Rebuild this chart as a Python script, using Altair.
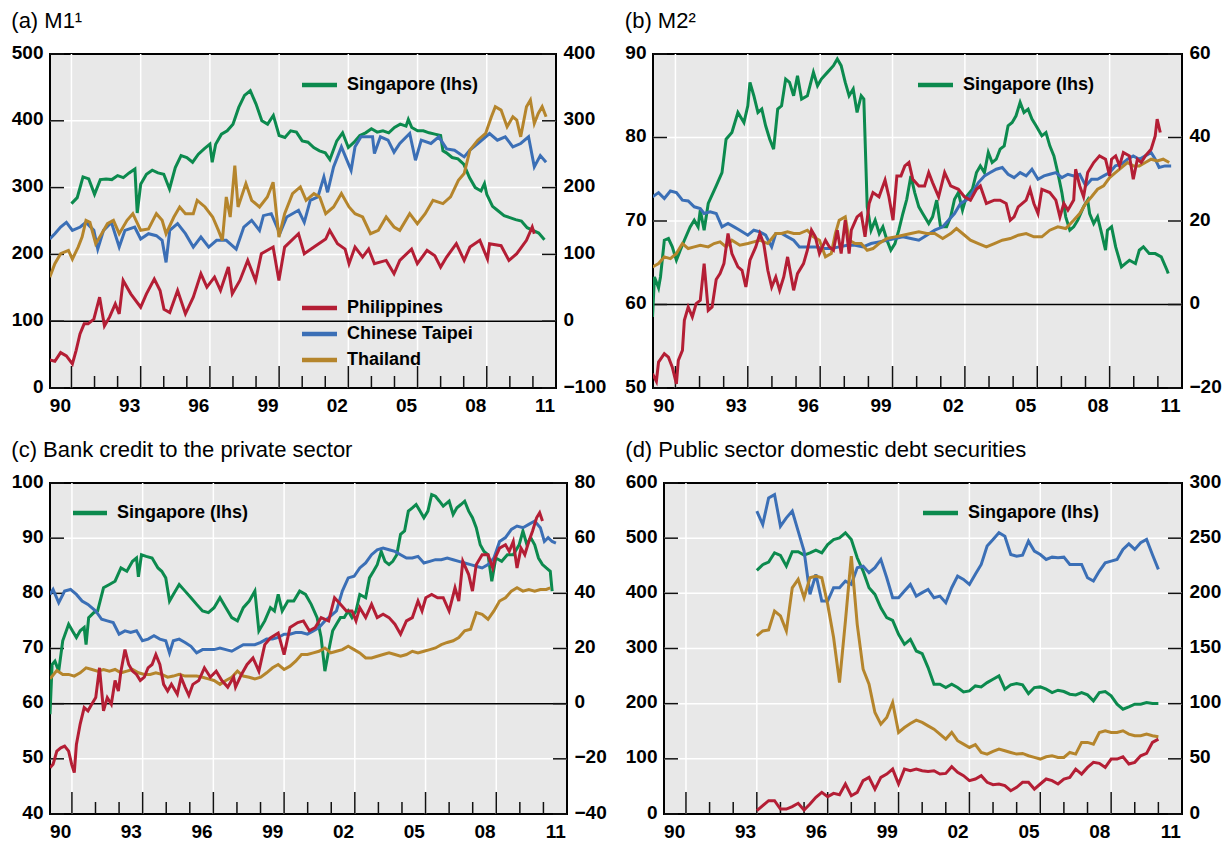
import altair as alt
import pandas as pd

FONT = "Liberation Sans"
GREEN = "#0c8a4e"
RED = "#b41e35"
BLUE = "#3b6fb6"
TAN = "#b5852c"
BG = "#e8e8e8"

# ---------------- tick / label arrays ----------------
LABEL_POS = [1990.5, 1993.5, 1996.5, 1999.5, 2002.5, 2005.5, 2008.5, 2011.5]
MAJOR_YEARS = [1991, 1994, 1997, 2000, 2003, 2006, 2009]
MINOR_YEARS = [1992, 1993, 1995, 1996, 1998, 1999, 2001, 2002, 2004, 2005, 2007, 2008, 2010, 2011]
X_DOMAIN = [1990.07, 2012]

# ---------------- (a) M1 ----------------
a_sg_t = [1991.0,1991.25,1991.5,1991.75,1992.0,1992.25,1992.5,1992.75,1993.0,1993.25,1993.5,1993.75,1993.85,1994.0,1994.25,1994.5,1994.75,1995.0,1995.25,1995.5,1995.75,1996.0,1996.25,1996.5,1996.75,1997.0,1997.1,1997.25,1997.5,1997.75,1998.0,1998.25,1998.5,1998.75,1999.0,1999.25,1999.5,1999.75,2000.0,2000.25,2000.5,2000.75,2001.0,2001.25,2001.5,2001.75,2002.0,2002.2,2002.5,2002.75,2003.0,2003.25,2003.5,2003.75,2004.0,2004.25,2004.5,2004.75,2005.0,2005.25,2005.5,2005.6,2005.75,2006.0,2006.25,2006.5,2006.75,2007.0,2007.1,2007.25,2007.5,2007.75,2008.0,2008.25,2008.5,2008.75,2008.9,2009.0,2009.25,2009.5,2009.75,2010.0,2010.25,2010.5,2010.75,2011.0,2011.25,2011.5]
a_sg_v = [276,285,316,313,290,312,313,312,318,315,322,328,262,305,320,326,322,320,298,330,348,345,338,350,358,365,338,365,380,385,395,420,438,445,425,400,395,408,378,375,385,383,370,368,360,355,352,342,370,382,360,368,378,382,388,383,385,382,390,395,392,402,390,385,385,382,380,378,355,352,345,343,335,315,300,295,306,290,272,265,258,255,252,250,240,236,232,222]

a_ph_t = [1990.06,1990.28,1990.53,1990.78,1991.04,1991.2,1991.37,1991.55,1991.72,1991.97,1992.22,1992.43,1992.65,1992.9,1993.07,1993.24,1993.57,1994.0,1994.25,1994.59,1994.84,1995.01,1995.26,1995.6,1995.94,1996.28,1996.61,1996.87,1997.2,1997.46,1997.8,1997.97,1998.3,1998.64,1998.98,1999.23,1999.74,1999.99,2000.24,2000.84,2001.09,2001.51,2002.02,2002.19,2002.53,2002.86,2003.03,2003.29,2003.62,2003.88,2004.13,2004.64,2004.98,2005.23,2005.74,2005.99,2006.41,2006.75,2007.0,2007.26,2007.68,2008.02,2008.27,2008.7,2009.03,2009.12,2009.62,2009.96,2010.3,2010.72,2010.97,2011.06]
a_ph_v = [-58,-60,-47,-52,-64,-44,-19,-4,-4,3,36,-7,6,26,11,61,41,21,41,63,46,18,13,46,11,36,71,51,66,46,81,41,61,91,61,101,111,61,111,131,101,111,123,136,116,108,86,111,96,108,86,91,71,91,108,86,106,98,81,96,116,91,111,121,93,116,113,91,101,121,141,131]

a_tw_t = [1990.06,1990.28,1990.53,1990.78,1991.04,1991.38,1991.63,1991.97,1992.14,1992.39,1992.73,1993.07,1993.32,1993.74,1994.0,1994.34,1994.68,1994.93,1995.1,1995.26,1995.6,1995.94,1996.28,1996.61,1996.95,1997.29,1997.71,1998.14,1998.47,1998.81,1999.15,1999.32,1999.66,2000.03,2000.33,2000.84,2001.09,2001.35,2001.68,2001.94,2002.1,2002.36,2002.7,2003.12,2003.29,2003.55,2004.05,2004.13,2004.39,2004.72,2004.98,2005.23,2005.66,2005.91,2006.16,2006.58,2006.92,2007.26,2007.6,2008.02,2008.27,2008.61,2009.12,2009.46,2009.8,2010.13,2010.47,2010.81,2011.06,2011.32,2011.57]
a_tw_v = [123,131,141,148,136,141,148,136,108,136,148,111,136,141,123,131,128,121,88,136,146,131,111,126,111,121,121,108,141,151,136,158,161,131,156,166,148,181,186,216,193,231,261,226,261,276,276,251,276,271,253,266,281,241,271,266,276,258,256,246,256,266,281,271,276,261,266,276,231,248,238]

a_th_t = [1990.06,1990.28,1990.53,1990.87,1991.04,1991.29,1991.46,1991.63,1991.8,1992.05,1992.31,1992.56,1992.82,1993.07,1993.41,1993.66,1994.0,1994.34,1994.68,1994.93,1995.1,1995.44,1995.69,1995.94,1996.28,1996.45,1996.79,1997.12,1997.37,1997.54,1997.71,1997.88,1998.08,1998.22,1998.56,1998.81,1999.15,1999.49,1999.74,1999.99,2000.24,2000.58,2000.92,2001.17,2001.51,2001.76,2002.02,2002.36,2002.7,2003.03,2003.29,2003.62,2003.96,2004.3,2004.64,2004.98,2005.23,2005.66,2005.99,2006.33,2006.67,2007.1,2007.43,2007.77,2008.02,2008.27,2008.61,2008.95,2009.2,2009.37,2009.62,2009.88,2010.13,2010.3,2010.47,2010.72,2010.89,2011.06,2011.23,2011.4,2011.57]
a_th_v = [66,86,101,106,93,111,126,151,148,116,131,146,151,131,151,161,136,138,161,151,131,156,171,161,161,181,171,156,136,121,186,156,233,171,206,181,171,186,208,126,161,191,201,181,191,186,161,171,191,171,161,156,131,136,156,141,136,161,146,161,181,176,186,211,221,256,271,281,306,321,316,291,306,301,276,321,331,296,311,321,306]

# ---------------- (b) M2 ----------------
b_sg_t = [1990.05,1990.13,1990.3,1990.38,1990.54,1990.71,1990.87,1991.04,1991.2,1991.37,1991.61,1991.78,1991.94,1992.03,1992.19,1992.36,1992.69,1992.93,1993.1,1993.34,1993.59,1993.84,1994.0,1994.09,1994.25,1994.42,1994.58,1994.74,1994.91,1995.07,1995.24,1995.4,1995.57,1995.73,1995.9,1996.06,1996.23,1996.47,1996.72,1996.89,1997.05,1997.3,1997.55,1997.71,1997.87,1998.04,1998.2,1998.37,1998.53,1998.7,1998.81,1998.95,1999.11,1999.28,1999.45,1999.6,1999.77,1999.93,2000.1,2000.26,2000.43,2000.59,2000.76,2000.92,2001.09,2001.25,2001.5,2001.66,2001.83,2001.99,2002.24,2002.41,2002.57,2002.73,2002.9,2003.06,2003.31,2003.48,2003.64,2003.81,2003.97,2004.13,2004.3,2004.46,2004.63,2004.79,2004.96,2005.12,2005.29,2005.45,2005.62,2005.78,2005.95,2006.19,2006.36,2006.52,2006.69,2006.85,2007.02,2007.18,2007.35,2007.51,2007.68,2007.92,2008.09,2008.17,2008.34,2008.5,2008.67,2008.83,2008.91,2009.08,2009.25,2009.49,2009.65,2009.82,2010.07,2010.23,2010.4,2010.64,2010.89,2011.14,2011.38,2011.43]
b_sg_v = [58.5,63.3,62,63.3,67.7,67.9,66.9,65.3,66.5,67.7,69.3,70.1,69.3,71.3,68.9,72.1,74.2,75.8,79.8,80.6,83,81.8,83.8,86.6,85,83,83.4,81.4,79.8,78.6,83.4,83.8,87,86.6,85,87.4,84.6,85,87.8,86.2,87,87.8,88.6,89.4,88.6,86.6,85,85.8,83,85,84.6,71.7,68.9,70.1,68.5,69.3,67.7,66.5,67.3,68.9,70.9,72.6,75.4,73.4,71.7,70.9,69.7,70.5,72.5,69.3,69.3,70.5,72.6,73.4,71.3,72.9,73.8,75.8,76.6,75.8,78.2,77,77.4,78.6,79,81.4,81.8,82.6,84.2,83,83.4,82.2,81.4,80.2,80.6,79,77.8,75.8,73.4,70.5,68.9,69.3,70.1,71.7,72.5,70.9,69.7,70.5,68.5,66.5,68.9,69.3,66.9,64.5,64.9,65.3,64.9,66.5,66.9,66.1,66.1,65.7,64.1,63.7]

b_ph_t = [1990.05,1990.21,1990.3,1990.54,1990.71,1990.87,1991.04,1991.12,1991.29,1991.37,1991.53,1991.7,1991.86,1992.03,1992.19,1992.36,1992.52,1992.69,1992.85,1993.01,1993.18,1993.34,1993.59,1993.76,1993.92,1994.09,1994.33,1994.5,1994.66,1994.83,1994.99,1995.16,1995.32,1995.49,1995.65,1995.9,1996.06,1996.31,1996.47,1996.64,1996.8,1996.97,1997.22,1997.38,1997.55,1997.71,1997.87,1998.04,1998.2,1998.29,1998.53,1998.7,1998.86,1999.03,1999.19,1999.44,1999.69,1999.85,2000.02,2000.18,2000.35,2000.51,2000.68,2000.84,2001.09,2001.33,2001.5,2001.66,2001.91,2002.16,2002.41,2002.73,2002.98,2003.23,2003.48,2003.64,2003.89,2004.22,2004.46,2004.71,2004.88,2005.04,2005.21,2005.54,2005.7,2005.86,2006.03,2006.19,2006.52,2006.77,2006.94,2007.1,2007.27,2007.51,2007.59,2007.76,2007.92,2008.09,2008.34,2008.58,2008.83,2009.0,2009.08,2009.25,2009.41,2009.57,2009.82,2009.98,2010.15,2010.31,2010.48,2010.72,2010.89,2010.97,2011.1]
b_ph_v = [-16.6,-18.4,-13.8,-11.8,-12.6,-15,-19,-13.4,-11,-3.8,-0.6,-3,0.2,1,9.8,-1.4,-0.6,6,7.4,9.8,17,12.2,9,8.2,4.2,10.6,13.8,17,14.6,8.2,4.2,6.6,3.4,6.6,11.4,3.4,7.4,9.8,13,17.8,16.2,12.2,15.4,13.8,13,17.8,12.2,20.2,12.2,17.8,21,21.8,16.2,24.2,26.8,25.8,29.8,25.8,20.2,30.8,30.8,33.2,34,30,28.4,28.4,31.6,29.2,25.8,31.6,28.4,27.6,25.8,25,27.6,28.4,24.2,25,25,24.2,20.2,21,23.4,25,27.6,24.2,21.8,27.6,26.8,25,21,24.2,22.6,25,32.4,28.4,25.8,31.6,34,35.6,34.8,30.8,34.8,35.6,33.2,36.4,35.6,30,34.8,34,35.6,37.2,40.4,44.4,41.2]

b_tw_t = [1990.05,1990.3,1990.54,1990.79,1991.04,1991.29,1991.53,1991.78,1992.03,1992.19,1992.44,1992.69,1992.93,1993.18,1993.43,1993.67,1994.0,1994.25,1994.5,1994.74,1994.99,1995.16,1995.4,1995.65,1995.9,1996.14,1996.47,1996.8,1997.13,1997.46,1997.79,1998.12,1998.45,1998.78,1999.11,1999.44,1999.77,2000.1,2000.43,2000.76,2001.09,2001.42,2001.75,2002.08,2002.32,2002.57,2002.82,2003.06,2003.31,2003.56,2003.81,2004.05,2004.3,2004.55,2004.79,2005.04,2005.29,2005.54,2005.78,2006.03,2006.28,2006.52,2006.77,2007.02,2007.27,2007.51,2007.76,2008.01,2008.25,2008.5,2008.75,2009.0,2009.24,2009.49,2009.74,2009.98,2010.23,2010.48,2010.72,2010.89,2011.05,2011.3,2011.55]
b_tw_v = [25.8,26.8,25.4,27.2,26.8,25,24.8,23.4,23,21.8,22.2,21.8,18.6,19.4,18.6,17.8,16.6,17.8,17.4,16.6,13.8,17,17,16.2,15.4,13.8,13.8,13.8,13.4,13.4,13.8,14.2,14.2,13.8,14.6,15,15.4,15.8,16.2,15.8,15.4,16.6,17.8,18.6,20.2,21.8,24.2,25,26.8,29.2,30.8,31.6,32.4,32.8,31.2,30.4,31.6,30.8,32.4,30,30.8,31.2,31.6,30.4,31.2,30.8,31.2,28.4,30,30,30.8,31.6,33.2,33.6,34.8,35.6,34.8,35.6,36.4,34.8,32.8,33.2,33.2]

b_th_t = [1990.05,1990.3,1990.54,1990.79,1991.04,1991.29,1991.53,1991.78,1992.03,1992.36,1992.6,1992.85,1993.1,1993.34,1993.67,1994.0,1994.25,1994.5,1994.83,1995.16,1995.4,1995.65,1995.9,1996.14,1996.47,1996.72,1996.97,1997.22,1997.46,1997.63,1997.79,1998.04,1998.2,1998.45,1998.7,1998.95,1999.19,1999.44,1999.77,2000.1,2000.43,2000.76,2001.09,2001.42,2001.75,2002.08,2002.41,2002.65,2002.9,2003.23,2003.56,2003.89,2004.22,2004.55,2004.88,2005.21,2005.54,2005.86,2006.19,2006.52,2006.85,2007.18,2007.51,2007.76,2008.01,2008.25,2008.5,2008.75,2009.0,2009.24,2009.49,2009.74,2009.98,2010.23,2010.48,2010.72,2010.97,2011.22,2011.47]
b_th_v = [9,9.8,11.4,11,12.2,14.6,13.4,13.8,14.2,13.8,14.6,15,13.8,15.4,14.2,14.6,15,15.4,14.6,17,17,17.4,17,17,17.8,16.2,15.4,11.4,12.2,17,20.2,21,15.4,14.6,14.6,13,13.4,14.6,15.8,16.2,16.6,17,17.4,17,17,15.8,17,18.2,17,15.4,14.6,13.8,14.6,15.4,15.8,16.6,17,16.2,16.2,17.8,18.6,18.2,20.2,21.8,24.2,25.8,27.6,28.4,30.4,31.6,32.8,34,33.2,33.2,34,34.8,34.4,34.8,34]

# ---------------- (c) Bank credit ----------------
c_sg_t = [1990.07,1990.16,1990.28,1990.44,1990.61,1990.86,1991.02,1991.19,1991.35,1991.52,1991.6,1991.71,1991.93,1992.09,1992.34,1992.59,1992.83,1993.08,1993.33,1993.57,1993.74,1993.82,1993.95,1994.15,1994.4,1994.65,1994.81,1994.98,1995.14,1995.3,1995.55,1995.8,1996.05,1996.29,1996.54,1996.79,1997.03,1997.28,1997.53,1997.78,1998.02,1998.27,1998.52,1998.76,1998.93,1999.18,1999.42,1999.59,1999.75,1999.92,2000.16,2000.41,2000.66,2000.91,2001.15,2001.4,2001.57,2001.73,2001.89,2002.06,2002.22,2002.39,2002.55,2002.72,2002.88,2003.05,2003.21,2003.46,2003.62,2003.79,2003.95,2004.12,2004.28,2004.45,2004.61,2004.78,2004.94,2005.11,2005.27,2005.44,2005.6,2005.77,2005.93,2006.1,2006.26,2006.42,2006.59,2006.75,2007.0,2007.17,2007.33,2007.5,2007.66,2007.83,2007.99,2008.15,2008.32,2008.48,2008.65,2008.81,2008.98,2009.23,2009.47,2009.72,2009.97,2010.13,2010.3,2010.46,2010.63,2010.79,2010.96,2011.12,2011.29,2011.37]
c_sg_v = [58.1,67.1,67.7,65.9,71.4,74.4,73.2,72,73.2,73.8,70.7,75.6,76.5,76.8,81,81.6,82.2,84.6,84,85.8,86.4,83,87,86.7,86.4,84.6,84,82.8,78.6,79.8,81.6,80.4,79.2,78,76.8,76.5,77.4,79.2,77.4,75.6,75,77.4,78.6,80.4,73.2,75,77.4,76.8,79.8,76.8,78.6,78.6,80.4,79.8,78,75.6,72,65.9,69.6,73.2,74.4,75.6,75.6,76.8,75.6,76.8,79.8,79.2,82.8,84,85.2,87.6,85.8,85.2,85.8,87,90.7,91.3,94.9,95.5,96.1,94.9,93.7,94.9,97.9,97.6,96.7,95.8,96.7,94.3,95.5,96.1,96.7,94.9,93.7,91.9,88.8,87.6,87,82.2,86.4,85.8,87,87,88.8,91.3,88.8,90.1,88.8,86.4,85.2,84.6,84,80.4]

c_ph_t = [1990.07,1990.2,1990.36,1990.53,1990.69,1990.86,1990.99,1991.1,1991.19,1991.35,1991.52,1991.68,1991.84,1992.01,1992.17,1992.34,1992.5,1992.67,1992.83,1992.97,1993.08,1993.25,1993.41,1993.57,1993.74,1993.9,1994.07,1994.23,1994.4,1994.56,1994.73,1994.89,1995.06,1995.22,1995.47,1995.63,1995.8,1995.96,1996.13,1996.38,1996.62,1996.87,1997.12,1997.36,1997.61,1997.86,1997.94,1998.19,1998.43,1998.68,1998.93,1999.18,1999.42,1999.75,2000.0,2000.25,2000.58,2000.82,2001.07,2001.32,2001.57,2001.89,2002.14,2002.39,2002.64,2002.88,2003.05,2003.21,2003.46,2003.71,2003.95,2004.2,2004.45,2004.7,2004.94,2005.19,2005.44,2005.68,2005.85,2006.01,2006.26,2006.51,2006.75,2007.0,2007.25,2007.41,2007.58,2007.83,2007.99,2008.15,2008.4,2008.65,2008.85,2008.95,2009.14,2009.39,2009.55,2009.72,2009.88,2010.05,2010.21,2010.38,2010.54,2010.71,2010.84,2010.96]
c_ph_v = [-23.2,-22,-17.2,-16,-15.4,-17.2,-22,-25,-14.8,-7.4,-1.4,-2.6,-0.2,2.2,13,-2.6,2.2,-0.2,8.4,4.6,11.8,19.6,14.2,11.8,10.6,8.4,9.6,13,14.2,17.8,14.2,7,4.6,7,3.4,9.6,6,3,7,8.4,13,9.6,11.8,8.4,6,9.6,6,10.6,14.2,16.6,11.8,21.4,23.8,25.6,17.8,27.6,29.4,30,26.4,27.6,31.2,30,38.4,36,33.6,33.6,30,34.8,31.2,36,31.2,32.4,31.2,28.8,25.2,30,31.2,37.2,33.6,38.4,39.6,38.4,38.4,33.6,42,37.2,51.6,46.8,40.8,50.4,54,54,49.2,52.8,56.4,57.6,55.2,58.8,49.2,56.4,54,58.8,62.6,67.4,69.2,66.2]

c_tw_t = [1990.07,1990.2,1990.44,1990.69,1990.94,1991.19,1991.43,1991.68,1992.01,1992.26,1992.5,1992.75,1993.0,1993.25,1993.49,1993.74,1993.99,1994.23,1994.48,1994.73,1994.98,1995.14,1995.3,1995.55,1995.8,1996.05,1996.29,1996.54,1996.79,1997.03,1997.28,1997.53,1997.78,1998.02,1998.27,1998.52,1998.76,1999.01,1999.26,1999.51,1999.75,2000.0,2000.25,2000.49,2000.74,2000.99,2001.24,2001.48,2001.73,2001.98,2002.22,2002.47,2002.72,2002.97,2003.21,2003.46,2003.71,2003.95,2004.2,2004.45,2004.7,2004.94,2005.19,2005.44,2005.68,2005.93,2006.18,2006.42,2006.67,2006.92,2007.17,2007.41,2007.66,2007.91,2008.15,2008.4,2008.65,2008.9,2009.14,2009.39,2009.64,2009.88,2010.13,2010.38,2010.63,2010.87,2011.04,2011.2,2011.37,2011.53]
c_tw_v = [39.6,41.4,36.6,40.8,41.4,39.6,37.2,36,33.6,30.6,30,29.4,25.2,26.4,25.8,26.4,22.8,23.4,24.6,23.4,22.8,18.4,22.8,23.4,22.2,20.8,18.4,19.6,19.6,19.6,20.2,19.6,19,20.2,21.4,21.4,21.4,22.2,23.4,23.4,24,25.2,25.2,25.8,25.8,25.2,26.4,27.6,30,31.8,33.6,40.8,45.6,46.2,49.2,51,54,55.8,56.4,55.8,55.2,54,52.8,52.8,53.4,51,51.6,52.2,52.2,52.8,52.2,51.6,51,50.4,49.8,49.2,50.4,52.8,58.8,60.2,63.2,64.4,63.8,65,66.2,63.8,58.8,60.2,58.8,58.2]

c_th_t = [1990.07,1990.36,1990.61,1990.86,1991.1,1991.35,1991.6,1991.85,1992.09,1992.34,1992.59,1992.83,1993.08,1993.33,1993.57,1993.82,1994.07,1994.32,1994.56,1994.81,1995.06,1995.3,1995.55,1995.8,1996.05,1996.29,1996.54,1996.79,1997.03,1997.28,1997.53,1997.78,1998.02,1998.27,1998.52,1998.76,1999.01,1999.26,1999.51,1999.75,2000.0,2000.25,2000.49,2000.74,2000.99,2001.24,2001.48,2001.73,2001.98,2002.22,2002.47,2002.72,2002.97,2003.21,2003.46,2003.71,2003.95,2004.2,2004.45,2004.7,2004.94,2005.19,2005.44,2005.68,2005.93,2006.18,2006.42,2006.67,2006.92,2007.17,2007.41,2007.66,2007.91,2008.15,2008.4,2008.65,2008.9,2009.14,2009.39,2009.64,2009.88,2010.13,2010.38,2010.63,2010.87,2011.12,2011.29]
c_th_v = [9,12,10.6,10.6,10,11.2,13,12.4,11.8,12.4,11.8,12.4,11.2,11.8,12.4,11.2,10.6,10.6,11.2,10.6,9.6,10,10.6,10,10,10,9.6,9,8.4,7,8.4,9.6,11.8,10,9.6,9,9.6,11.2,13,14.2,12.4,13.6,15.4,17.8,17.8,18.4,19,20.2,18.4,19,19.6,20.8,19.6,18.4,16.6,16.6,17.2,17.8,18.4,17.8,17.2,17.8,19,18.4,19,19.6,20.2,21.4,22.2,22.8,24,26.4,27,33,32.4,30.6,33.6,37.2,38.4,40.8,42,40.8,41.4,40.8,41.4,41.4,42]

# ---------------- (d) Public sector domestic debt securities (quarterly) ----------------
d_t = [1994 + q / 4 for q in range(69)]
d_sg_v = [441.5,452,456.6,473.5,468.6,449.3,475.3,475.3,469.2,473.5,478.3,473.5,488.5,497.6,500.6,509.7,497.6,464.4,440.3,410.1,398.1,373.9,355.9,351,325.7,307.6,316.6,295.5,290.7,265.4,235.2,235.2,229.2,235.2,229.2,221.4,223.2,232.2,230.4,238.2,244.3,250.3,226.2,234,236.4,234,218.3,229.2,230.4,226.2,220.1,224.4,222,217.1,215.9,220.1,215.9,205.1,220.1,222,214.1,199,190,194.2,199,199,202,200.2,200.2]
d_tw_v = [274.5,262.4,286.5,289.5,260.9,268.4,274.5,256.4,238.3,199.1,217.2,193,193,205.1,205.1,211.1,208.1,223.2,224.7,218.7,223.2,230.7,214.1,196,196,202.1,208.1,197.5,200.6,203.6,196,197.5,191.5,205.1,215.6,212.6,208.1,217.2,226.2,242.8,248.8,254.9,251.8,235.2,233.7,234.6,247.3,238.3,235.2,230.7,232.8,232.2,232.8,226.2,226.2,226.2,214.1,211.1,220.2,227.7,229.2,230.7,239.8,244.9,239.8,245.8,248.8,235,221.7]
d_th_v = [161.4,165.9,166.8,184,179.5,165.9,205,212.6,196,214.1,215.6,214.1,190,159.9,119.1,174.9,233.7,171.9,131.2,117.6,92,81.4,87.5,101,73.9,78.4,82,85,83,79.9,76.9,72.4,67.9,73.9,66.4,63.3,60.3,62.8,55.8,54.3,56.7,58.8,57.3,55.8,54.3,54.9,52.8,51.3,49.8,51.9,52.8,51.3,51.3,55.8,54.3,64.9,64.9,63.3,73.9,75.4,73.9,73.9,75.4,72.4,70.9,70.9,72.4,70.9,70]
d_ph_v = [3,7.6,12.1,12.1,4.5,4.5,6.7,9.7,3.6,9.1,15.1,19.6,15.7,18.7,17.5,27.2,16.6,19.6,30.2,33.2,22.6,33.2,36.2,40.7,27.2,40.7,39.2,40.7,39.2,38.6,39.2,36.2,36.8,42.8,37.7,34.7,30.2,31.7,34.7,28.7,26.6,27.2,25.7,21.1,24.2,28.7,28.7,22.6,27.2,31.7,30.2,27.2,31.7,33.2,40.7,36.2,42.2,46.8,45.9,42.2,49.8,49.8,51.9,45.3,46.8,52.8,54.9,64.9,67.9]

SERIES = ["Chinese Taipei", "Thailand", "Philippines"]
SERIES_COLORS = [BLUE, TAN, RED]

AXIS_LABEL = dict(labelFont=FONT, labelFontSize=19, labelFontWeight="bold",
                  labelColor="black")


def mk(t, v, name):
    n = min(len(t), len(v))
    return pd.DataFrame({"t": t[:n], "v": v[:n], "s": [name] * n})


def panel(title, W, H, left_dom, left_ticks, right_dom, right_ticks,
          sg_df, oth_df, zero_line, legend_main, legend_extra):
    xs = alt.Scale(domain=X_DOMAIN, zero=False, nice=False)
    x_axis = alt.Axis(values=LABEL_POS,
                      labelExpr="substring(toString(floor(datum.value)), 2, 4)",
                      labelFlush=False, labelPadding=8, ticks=False, domain=False,
                      grid=False, title=None, **AXIS_LABEL)
    X = alt.X("t:Q", scale=xs, axis=x_axis, title=None)
    ls = alt.Scale(domain=left_dom, zero=False, nice=False)
    rs = alt.Scale(domain=right_dom, zero=False, nice=False)
    one = pd.DataFrame({"a": [0]})

    layers = []
    hgrid = alt.Chart(pd.DataFrame({"v": left_ticks[1:-1]})).mark_rule(
        color="white", strokeWidth=1.5).encode(
        y=alt.Y("v:Q", scale=ls, axis=None), x=alt.value(0), x2=alt.value(W))
    vgrid = alt.Chart(pd.DataFrame({"t": MAJOR_YEARS})).mark_rule(
        color="white", strokeWidth=1.5).encode(x=X, y=alt.value(0), y2=alt.value(H))
    layers += [hgrid, vgrid]
    if zero_line:
        layers.append(alt.Chart(pd.DataFrame({"v": [0]})).mark_rule(
            color="black", strokeWidth=1.5).encode(
            y=alt.Y("v:Q", scale=rs, axis=None), x=alt.value(0), x2=alt.value(W)))
    tick_df = pd.DataFrame({"v": left_ticks})
    layers.append(alt.Chart(tick_df).mark_rule(color="#111", strokeWidth=1.5).encode(
        y=alt.Y("v:Q", scale=ls, axis=None), x=alt.value(0), x2=alt.value(14)))
    layers.append(alt.Chart(tick_df).mark_rule(color="#111", strokeWidth=1.5).encode(
        y=alt.Y("v:Q", scale=ls, axis=None), x=alt.value(W - 14), x2=alt.value(W)))
    layers.append(alt.Chart(pd.DataFrame({"t": MAJOR_YEARS})).mark_rule(
        color="#111", strokeWidth=1.5).encode(x=X, y=alt.value(H - 22), y2=alt.value(H)))
    layers.append(alt.Chart(pd.DataFrame({"t": MINOR_YEARS})).mark_rule(
        color="#111", strokeWidth=1.5).encode(x=X, y=alt.value(H - 12), y2=alt.value(H)))

    layers.append(alt.Chart(sg_df).mark_line(color=GREEN, strokeWidth=3, clip=True).encode(
        x=X,
        y=alt.Y("v:Q", scale=ls, title=None,
                axis=alt.Axis(orient="left", values=left_ticks, labelPadding=7,
                              labelOffset=-2, ticks=False, domain=False, grid=False,
                              labelFlush=False, title=None, **AXIS_LABEL))))
    layers.append(alt.Chart(oth_df).mark_line(strokeWidth=3, clip=True).encode(
        x=X,
        y=alt.Y("v:Q", scale=rs, title=None,
                axis=alt.Axis(orient="right", values=right_ticks, labelPadding=7,
                              labelOffset=-2, ticks=False, domain=False, grid=False,
                              labelFlush=False, title=None, **AXIS_LABEL)),
        color=alt.Color("s:N", scale=alt.Scale(domain=SERIES, range=SERIES_COLORS),
                        legend=None)))

    for (lx1, lx2, ly, tx, label, col) in [legend_main] + legend_extra:
        layers.append(alt.Chart(one).mark_rule(color=col, strokeWidth=4.5).encode(
            x=alt.value(lx1), x2=alt.value(lx2), y=alt.value(ly)))
        layers.append(alt.Chart(one).mark_text(
            align="left", baseline="middle", font=FONT, fontSize=18,
            fontWeight="bold", color="black").encode(
            x=alt.value(tx), y=alt.value(ly), text=alt.value(label)))

    return alt.layer(*layers).resolve_scale(y="independent").properties(
        width=W, height=H,
        title=alt.TitleParams(title, anchor="start", font=FONT, fontSize=22,
                              fontWeight="normal", color="black", offset=10))


a_oth = pd.concat([mk(a_tw_t, a_tw_v, "Chinese Taipei"), mk(a_th_t, a_th_v, "Thailand"),
                   mk(a_ph_t, a_ph_v, "Philippines")])
b_oth = pd.concat([mk(b_tw_t, b_tw_v, "Chinese Taipei"), mk(b_th_t, b_th_v, "Thailand"),
                   mk(b_ph_t, b_ph_v, "Philippines")])
c_oth = pd.concat([mk(c_tw_t, c_tw_v, "Chinese Taipei"), mk(c_th_t, c_th_v, "Thailand"),
                   mk(c_ph_t, c_ph_v, "Philippines")])
d_oth = pd.concat([mk(d_t, d_tw_v, "Chinese Taipei"), mk(d_t, d_th_v, "Thailand"),
                   mk(d_t, d_ph_v, "Philippines")])

pa = panel("(a) M1¹", 506, 334, [0, 500], [0, 100, 200, 300, 400, 500],
           [-100, 400], [-100, 0, 100, 200, 300, 400],
           mk(a_sg_t, a_sg_v, "Singapore"), a_oth, True,
           (252, 287, 31, 297, "Singapore (lhs)", GREEN),
           [(252, 287, 254, 297, "Philippines", RED),
            (252, 287, 280, 297, "Chinese Taipei", BLUE),
            (252, 287, 306, 297, "Thailand", TAN)])
pb = panel("(b) M2²", 529, 334, [50, 90], [50, 60, 70, 80, 90],
           [-20, 60], [-20, 0, 20, 40, 60],
           mk(b_sg_t, b_sg_v, "Singapore"), b_oth, True,
           (265, 300, 31, 310, "Singapore (lhs)", GREEN), [])
pc = panel("(c) Bank credit to the private sector", 517, 331, [40, 100],
           [40, 50, 60, 70, 80, 90, 100], [-40, 80], [-40, -20, 0, 20, 40, 60, 80],
           mk(c_sg_t, c_sg_v, "Singapore"), c_oth, True,
           (23, 57, 30, 67, "Singapore (lhs)", GREEN), [])
pd_ = panel("(d) Public sector domestic debt securities", 518, 331, [0, 600],
            [0, 100, 200, 300, 400, 500, 600], [0, 300], [0, 50, 100, 150, 200, 250, 300],
            mk(d_t, d_sg_v, "Singapore"), d_oth, False,
            (259, 294, 30, 304, "Singapore (lhs)", GREEN), [])

chart = alt.vconcat(
    alt.hconcat(pa, pb, spacing=16),
    alt.hconcat(pc, pd_, spacing=16),
    spacing=22,
).properties(
    padding={"left": 2, "top": 1, "right": 0, "bottom": 0},
    background="white",
).configure_view(
    fill=BG, stroke="black", strokeWidth=2
).configure_axis(
    labelFont=FONT, labelFontSize=19, labelFontWeight="bold", labelColor="black"
)

chart.save("out.html", embed_options={"renderer": "svg", "actions": False})
